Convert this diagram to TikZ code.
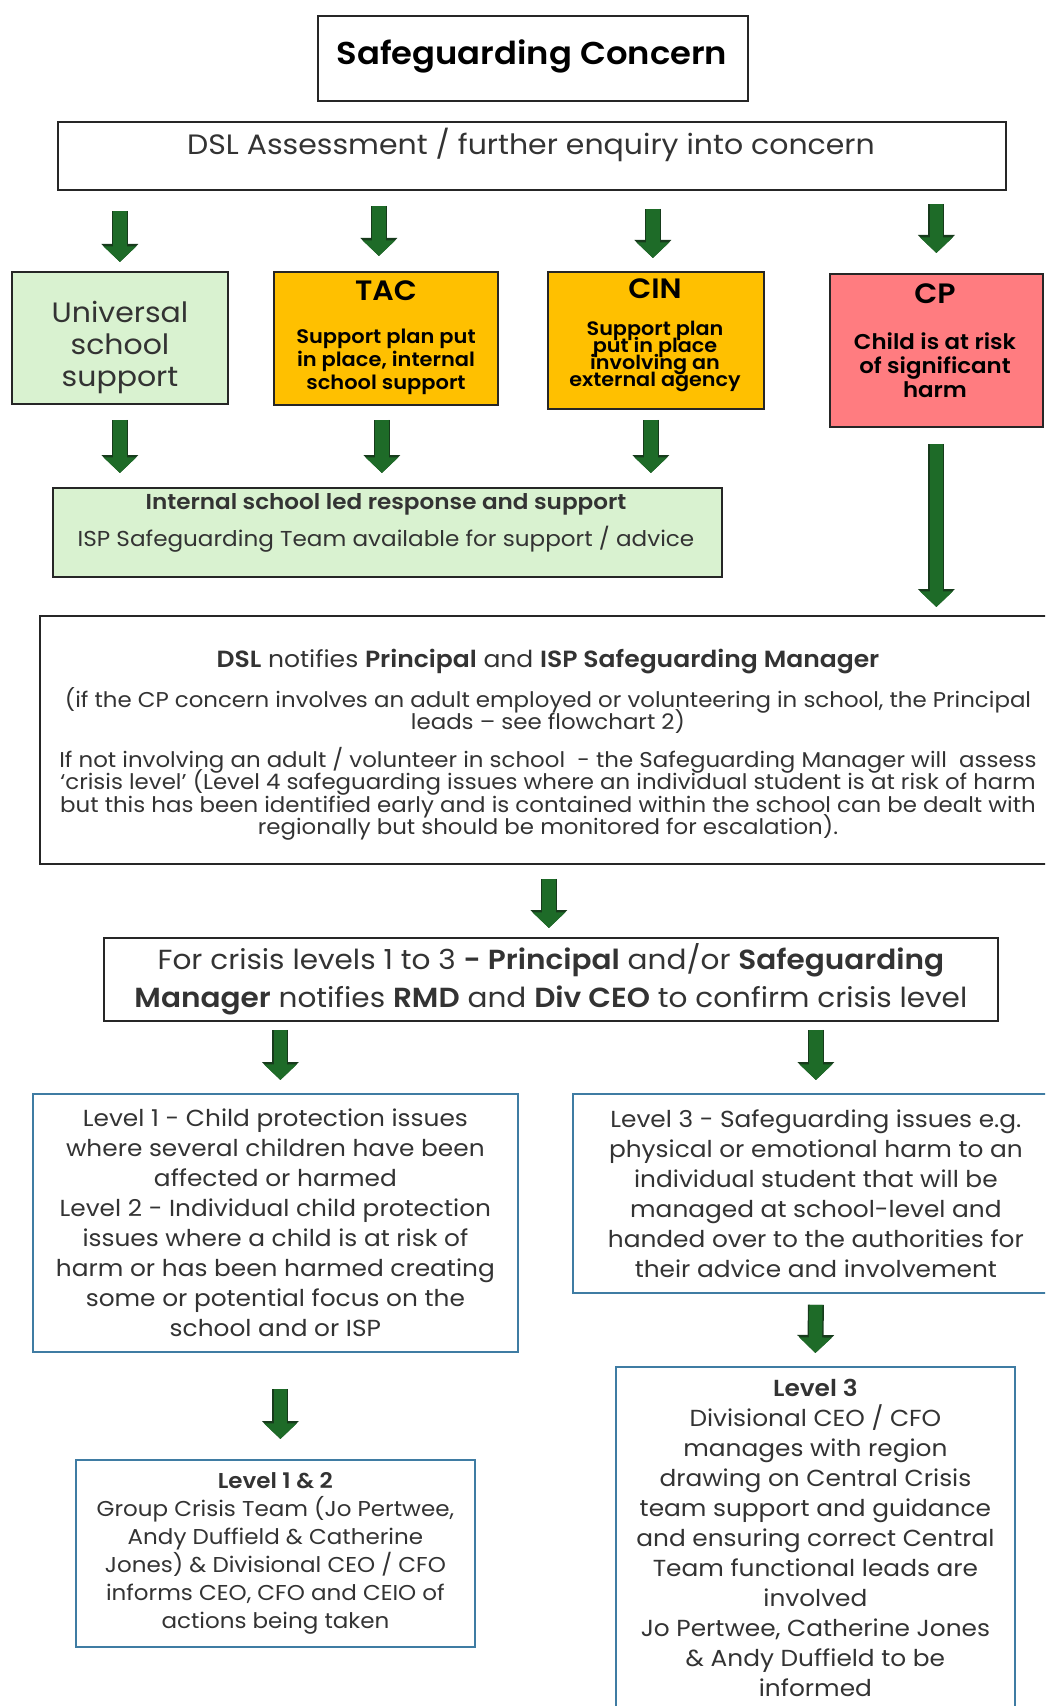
\documentclass[tikz,border=0pt]{standalone}
\usepackage{fontspec}
\setmainfont{Poppins}[FakeStretch=1.07,BoldFont={Poppins SemiBold}]
\usetikzlibrary{arrows.meta,calc,positioning}
\definecolor{boxline}{HTML}{262626}
\definecolor{lgreen}{HTML}{D9F2D0}
\definecolor{amber}{HTML}{FFC000}
\definecolor{salmon}{HTML}{FF7C80}
\definecolor{lvlblue}{HTML}{3F7CA3}
\definecolor{arrowgreen}{HTML}{1E6B28}
\definecolor{arrowdark}{HTML}{173B1C}
\definecolor{txtgray}{HTML}{333333}

\begin{document}
\begin{tikzpicture}[x=0.5pt,y=-0.5pt,
    box/.style={draw=boxline,line width=0.9pt,anchor=north west,inner sep=0pt,align=center,text=txtgray},
    lvlbox/.style={draw=lvlblue,line width=0.9pt,anchor=north west,inner sep=0pt,align=center,text=txtgray},
    txt/.style={align=center,inner sep=0pt,text=txtgray},
    garrow/.style={draw=arrowgreen,line width=6.6pt,-{Triangle[width=16pt,length=7.8pt]},
      preaction={draw=arrowdark,line width=8pt,-{Triangle[width=18pt,length=9pt]}}}]
    \useasboundingbox (0,0) rectangle (1045,1706);
    \clip (0,0) rectangle (1045,1706);

    % top of the chart
    \node[box,minimum width=215pt,minimum height=42.5pt] (concern) at (317,15) {};
    \node[txt,anchor=base,text=black,font=\bfseries\fontsize{15.8}{20}\selectfont] (concerntext) at (532,65) {Safeguarding Concern};
    \node[box,minimum width=474pt,minimum height=34pt] (dsla) at (57,121) {};
    \node[txt,anchor=base,font=\fontsize{14}{18}\selectfont] (dslatext) at (531,155) {DSL Assessment / further enquiry into concern};

    % the four routes
    \node[box,fill=lgreen,minimum width=108pt,minimum height=66pt] (usup) at (11,271) {};
    \node[txt,font=\fontsize{14}{16}\selectfont] (usuptext) at (120,347) {Universal\\school\\support};
    \node[box,fill=amber,minimum width=112pt,minimum height=66.5pt] (tac) at (273,271) {};
    \node[txt,text=black,font=\bfseries\fontsize{9.8}{11.5}\selectfont] (tactext) at (386,338)
      {{\fontsize{14}{14}\selectfont TAC}\\[10pt]Support plan put\\in place, internal\\school support};
    \node[box,fill=amber,minimum width=108pt,minimum height=68.5pt] (cin) at (547,271) {};
    \node[txt,text=black,font=\bfseries\fontsize{9.7}{8.5}\selectfont\setlength{\lineskiplimit}{-20pt}] (cintext) at (655,335)
      {{\fontsize{14}{14}\selectfont CIN}\\[10pt]Support plan\\put in place\\involving an\\external agency};
    \node[box,fill=salmon,minimum width=106.5pt,minimum height=76.5pt] (cp) at (829,273) {};
    \node[txt,text=black,font=\bfseries\fontsize{10.7}{12}\selectfont] (cptext) at (935,341)
      {{\fontsize{14}{14}\selectfont CP}\\[11pt]Child is at risk\\of significant\\harm};

    \node[box,fill=lgreen,minimum width=334.5pt,minimum height=44.5pt] (internal) at (52,487) {};
    \node[txt,font=\fontsize{10.8}{18.5}\selectfont] (internaltext) at (386,523)
      {\textbf{Internal school led response and support}\\ISP Safeguarding Team available for support / advice};

    % notification and crisis level
    \node[box,minimum width=509pt,minimum height=124pt] (notify) at (39,615) {};
    \node[txt,font=\fontsize{10.7}{11.25}\selectfont\setlength{\lineskiplimit}{-20pt}] (notifytext) at (548,745)
      {{\fontsize{11.7}{11.25}\selectfont\textbf{DSL} notifies \textbf{Principal} and \textbf{ISP Safeguarding Manager}}\\[8.5pt]
       (if the CP concern involves an adult employed or volunteering in school, the Principal\\
       leads – see flowchart 2)\\[7.5pt]
       If not involving an adult / volunteer in school \ - the Safeguarding Manager will \ assess\\
       ‘crisis level’ (Level 4 safeguarding issues where an individual student is at risk of harm\\
       but this has been identified early and is contained within the school can be dealt with\\
       regionally but should be monitored for escalation).};
    \node[box,minimum width=447pt,minimum height=41.5pt,font=\fontsize{13.8}{19}\selectfont] (crisis) at (103,937)
      {For crisis levels 1 to 3 \textbf{- Principal} and/or \textbf{Safeguarding}\\
       \textbf{Manager} notifies \textbf{RMD} and \textbf{Div CEO} to confirm crisis level};

    % levels
    \node[lvlbox,minimum width=242.5pt,minimum height=129pt,font=\fontsize{11.6}{15}\selectfont] (lev1) at (32,1093)
      {Level 1 - Child protection issues\\where several children have been\\affected or harmed\\
       Level 2 - Individual child protection\\issues where a child is at risk of\\harm or has been harmed creating\\
       some or potential focus on the\\school and or ISP};
    \node[lvlbox,minimum width=243pt,minimum height=99.5pt,font=\fontsize{11.6}{15}\selectfont] (lev3) at (572,1093)
      {Level 3 - Safeguarding issues e.g.\\physical or emotional harm to an\\individual student that will be\\
       managed at school-level and\\handed over to the authorities for\\their advice and involvement};
    \node[lvlbox,minimum width=199.5pt,minimum height=93.5pt,font=\fontsize{10.75}{14}\selectfont] (lev12) at (75,1459)
      {\textbf{Level 1 \& 2}\\Group Crisis Team (Jo Pertwee,\\Andy Duffield \& Catherine\\
       Jones) \& Divisional CEO / CFO\\informs CEO, CFO and CEIO of\\actions being taken};
    \node[lvlbox,minimum width=199.5pt,minimum height=171pt,font=\fontsize{11.6}{15}\selectfont] (lev3b) at (615,1366)
      {\textbf{Level 3}\\Divisional CEO / CFO\\manages with region\\drawing on Central Crisis\\
       team support and guidance\\and ensuring correct Central\\Team functional leads are\\involved\\
       Jo Pertwee, Catherine Jones\\\& Andy Duffield to be\\informed};

    % arrows
    \draw[garrow] ($(dsla.south -| usup.north)+(0,20)$) -- ($(usup.north)+(0,-9)$);
    \draw[garrow] ($(dsla.south -| tac.north)+(-7,15)$) -- ($(tac.north)+(-7,-15)$);
    \draw[garrow] ($(dsla.south -| cin.north)+(-3,18)$) -- ($(cin.north)+(-3,-13)$);
    \draw[garrow] ($(dsla.south -| cp.north)+(0,13)$) -- ($(cp.north)+(0,-20)$);
    \draw[garrow] ($(usup.south)+(0,15)$) -- ($(internal.north -| usup.south)+(0,-14)$);
    \draw[garrow] ($(tac.south)+(-4,14)$) -- ($(internal.north -| tac.south)+(-4,-14)$);
    \draw[garrow] ($(cin.south)+(-5,10)$) -- ($(internal.north -| cin.south)+(-5,-14)$);
    \draw[garrow] ($(cp.south)+(0,16)$) -- ($(notify.north -| cp.south)+(0,-8)$);
    \draw[garrow] ($(notify.south)+(0,14)$) -- ($(crisis.north -| notify.south)+(0,-9)$);
    \draw[garrow] ($(crisis.south -| lev1.north)+(5,8)$) -- ($(lev1.north)+(5,-13)$);
    \draw[garrow] ($(crisis.south -| lev3.north)+(0,8)$) -- ($(lev3.north)+(0,-13)$);
    \draw[garrow] ($(lev3.south)+(0,11)$) -- ($(lev3b.north)+(0,-13)$);
    \draw[garrow] ($(lev1.south)+(5,36)$) -- ($(lev12.north -| lev1.south)+(5,-20)$);
\end{tikzpicture}
\end{document}
